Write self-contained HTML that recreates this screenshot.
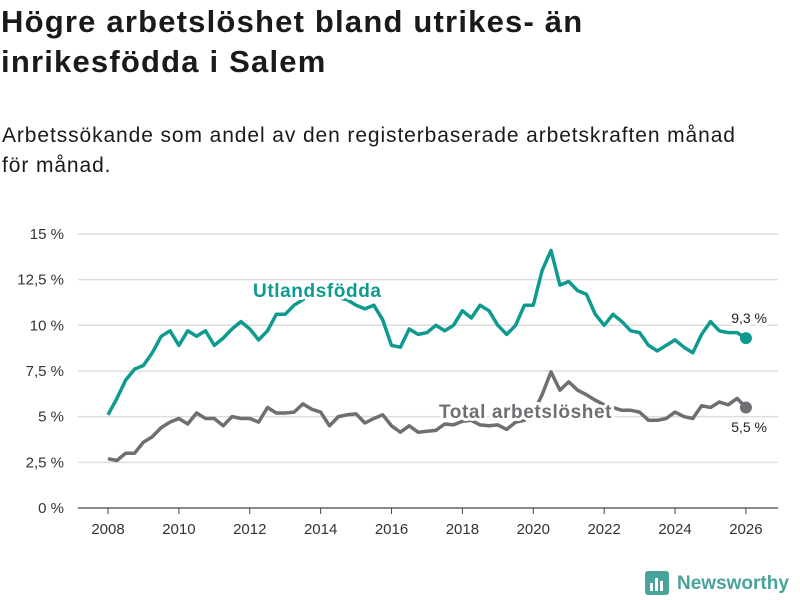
<!DOCTYPE html>
<html><head><meta charset="utf-8"><style>
body{margin:0;background:#fff;width:800px;height:600px;overflow:hidden;font-family:"Liberation Sans",sans-serif;color:#1a1a1a}
h1{position:absolute;left:1px;top:2px;margin:0;font-size:31px;line-height:40px;font-weight:bold;width:640px;letter-spacing:1.2px}
.sub{position:absolute;left:2px;top:121px;font-size:21px;line-height:30px;width:800px;letter-spacing:0.9px;white-space:nowrap}
svg{position:absolute;left:0;top:0}
</style></head><body>
<h1>Högre arbetslöshet bland utrikes- än inrikesfödda i Salem</h1>
<div class="sub">Arbetssökande som andel av den registerbaserade arbetskraften månad<br>för månad.</div>
<svg id="c" width="800" height="600"></svg>
<script>
const yTicks=[0,2.5,5,7.5,10,12.5,15];
const yTickLabels=["0 %","2,5 %","5 %","7,5 %","10 %","12,5 %","15 %"];
const xTicks=[2008,2010,2012,2014,2016,2018,2020,2022,2024,2026];
const startYear=2008, step=0.25;
const foreign=[5.1,6.0,7.0,7.6,7.8,8.5,9.4,9.7,8.9,9.7,9.4,9.7,8.9,9.3,9.8,10.2,9.8,9.2,9.7,10.6,10.6,11.1,11.4,11.8,12.0,11.9,11.5,11.4,11.1,10.9,11.1,10.3,8.9,8.8,9.8,9.5,9.6,10.0,9.7,10.0,10.8,10.4,11.1,10.8,10.0,9.5,10.0,11.1,11.1,13.0,14.1,12.2,12.4,11.9,11.7,10.6,10.0,10.6,10.2,9.7,9.6,8.9,8.6,8.9,9.2,8.8,8.5,9.5,10.2,9.7,9.6,9.6,9.3];
const total=[2.7,2.6,3.0,3.0,3.6,3.9,4.4,4.7,4.9,4.6,5.2,4.9,4.9,4.5,5.0,4.9,4.9,4.7,5.5,5.2,5.2,5.25,5.7,5.4,5.25,4.5,5.0,5.1,5.15,4.65,4.9,5.1,4.5,4.15,4.5,4.15,4.2,4.25,4.6,4.55,4.75,4.8,4.55,4.5,4.55,4.3,4.7,4.8,5.2,6.2,7.45,6.45,6.9,6.45,6.2,5.9,5.65,5.5,5.35,5.35,5.25,4.8,4.8,4.9,5.25,5.0,4.9,5.6,5.5,5.8,5.65,6.0,5.5];
const NS="http://www.w3.org/2000/svg";
const svg=document.getElementById('c');
const X=t=>108+(t-2008)*35.44;
const Y=v=>508-v*18.27;
function el(tag,attrs,parent){const e=document.createElementNS(NS,tag);for(const k in attrs)e.setAttribute(k,attrs[k]);(parent||svg).appendChild(e);return e;}
yTicks.forEach((v,i)=>{
  const l=el('line',{x1:78,x2:778,y1:Y(v),y2:Y(v),stroke:v===0?'#444':'#ddd','stroke-width':v===0?1.2:1.5});
  
  
  const t=el('text',{x:64,y:Y(v)+5,'text-anchor':'end','font-size':15,fill:'#333'});
  t.textContent=yTickLabels[i];
  
  
});
xTicks.forEach(yr=>{
  const k=el('line',{x1:X(yr),x2:X(yr),y1:508,y2:514,stroke:'#444'});
  
  
  const t=el('text',{x:X(yr),y:534,'text-anchor':'middle','font-size':15,fill:'#333'});
  t.textContent=yr;
  
  
});
function series(data,color,name){
  const d=data.map((v,i)=>(i?'L':'M')+X(startYear+i*step).toFixed(1)+','+Y(v).toFixed(1)).join('');
  const p=el('path',{d:d,fill:'none',stroke:color,'stroke-width':3.5,'stroke-linejoin':'round'});
  
  
  const n=data.length-1;
  const c=el('circle',{cx:X(startYear+n*step),cy:Y(data[n]),r:6,fill:color});
  
  
}
series(total,'#6f6e73','total');
series(foreign,'#0f9a8f','foreign');
function label(x,y,txt,color,size,bold,anchor,name,ls){
  const t=el('text',{x:x,y:y,'font-size':size,'font-weight':bold?'bold':'normal',fill:color,'text-anchor':anchor||'start',stroke:'#fff','stroke-width':6,'paint-order':'stroke','stroke-linejoin':'round','letter-spacing':ls||0});
  t.textContent=txt;
  
  
}
label(253,297,'Utlandsfödda','#0f9a8f',19,true,'start','foreign-series-label',0.6);
label(439,418,'Total arbetslöshet','#6f6e73',19,true,'start','total-series-label',0.6);
label(767,323,(foreign[foreign.length-1]).toFixed(1).replace('.',',')+' %','#222',14,false,'end','foreign-end-label');
label(767,432,(total[total.length-1]).toFixed(1).replace('.',',')+' %','#222',14,false,'end','total-end-label');
const g=el('g',{});


el('rect',{x:645,y:571,width:24,height:24,rx:3,fill:'#4aa39a'},g);
el('rect',{x:650,y:583,width:3,height:8,fill:'#fff'},g);
el('rect',{x:655,y:578,width:3,height:13,fill:'#fff'},g);
el('rect',{x:660,y:581,width:3,height:10,fill:'#fff'},g);
const lt=el('text',{x:677,y:589,'font-size':19,'font-weight':'bold',fill:'#4aa39a'},g);
lt.textContent='Newsworthy';
</script>
</body></html>
